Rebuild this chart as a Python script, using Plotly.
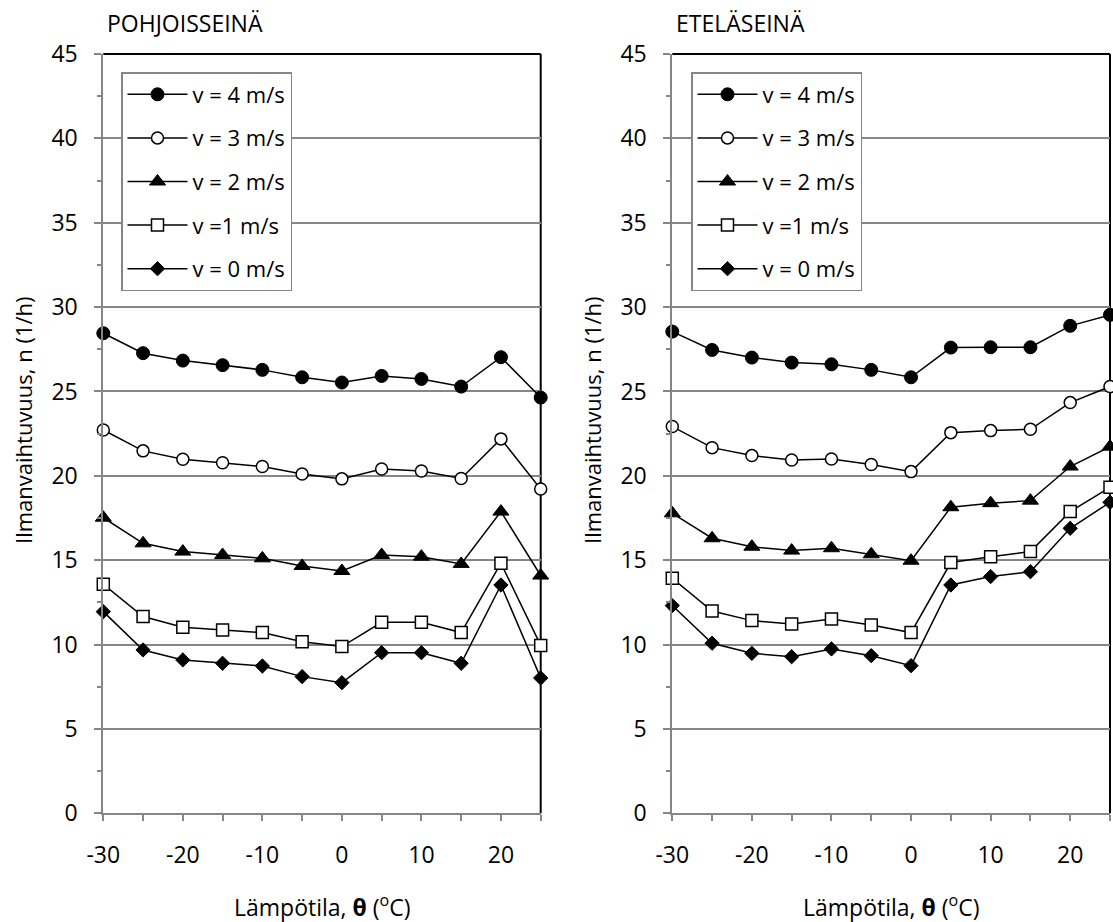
import plotly.graph_objects as go

# ---------------- data ----------------
temps = [-30, -25, -20, -15, -10, -5, 0, 5, 10, 15, 20, 25]
series_names = ["v = 4 m/s", "v = 3 m/s", "v = 2 m/s", "v =1 m/s", "v = 0 m/s"]

north_v4 = [28.45, 27.27, 26.83, 26.56, 26.28, 25.84, 25.53, 25.92, 25.74, 25.29, 27.03, 24.64]
north_v3 = [22.72, 21.48, 20.98, 20.78, 20.55, 20.11, 19.82, 20.41, 20.29, 19.84, 22.19, 19.22]
north_v2 = [17.52, 16.00, 15.51, 15.31, 15.11, 14.66, 14.36, 15.31, 15.21, 14.78, 17.88, 14.09]
north_v1 = [13.57, 11.66, 11.03, 10.87, 10.71, 10.17, 9.88, 11.32, 11.32, 10.71, 14.82, 9.95]
north_v0 = [11.95, 9.68, 9.09, 8.89, 8.73, 8.10, 7.74, 9.52, 9.52, 8.89, 13.53, 8.02]

south_v4 = [28.55, 27.46, 27.01, 26.71, 26.61, 26.28, 25.84, 27.60, 27.62, 27.62, 28.89, 29.54]
south_v3 = [22.92, 21.67, 21.20, 20.94, 21.00, 20.67, 20.25, 22.56, 22.68, 22.76, 24.34, 25.29]
south_v2 = [17.78, 16.30, 15.80, 15.57, 15.71, 15.35, 14.97, 18.14, 18.38, 18.53, 20.55, 21.73]
south_v1 = [13.93, 11.99, 11.42, 11.22, 11.52, 11.16, 10.71, 14.86, 15.21, 15.51, 17.88, 19.32]
south_v0 = [12.31, 10.08, 9.48, 9.28, 9.74, 9.34, 8.75, 13.53, 14.03, 14.32, 16.89, 18.43]

x_tick_vals = [-30, -20, -10, 0, 10, 20]
y_tick_vals = [0, 5, 10, 15, 20, 25, 30, 35, 40, 45]

panel_titles = ["POHJOISSEINÄ", "ETELÄSEINÄ"]
x_title = "Lämpötila, <b>θ</b> (<sup>o</sup>C)"
y_title = "Ilmanvaihtuvuus, n (1/h)"

# ---------------- styles ----------------
FONT = "Open Sans"
GRAY = "#868686"
W, H = 1113, 922

marker_styles = [
    dict(symbol="circle", size=13, color="black", line=dict(color="black", width=1)),
    dict(symbol="circle", size=12, color="white", line=dict(color="black", width=1.5)),
    dict(symbol="triangle-up", size=14, color="black", line=dict(color="black", width=1)),
    dict(symbol="square", size=12, color="white", line=dict(color="black", width=1.5)),
    dict(symbol="diamond", size=11, color="black", line=dict(color="black", width=1)),
]

north = [north_v4, north_v3, north_v2, north_v1, north_v0]
south = [south_v4, south_v3, south_v2, south_v1, south_v0]

fig = go.Figure()

for panel, (data, xa, ya, leg) in enumerate([(north, "x", "y", "legend"), (south, "x2", "y2", "legend2")]):
    for i, (name, vals) in enumerate(zip(series_names, data)):
        fig.add_trace(go.Scatter(
            x=temps, y=vals, name=name, mode="lines+markers",
            line=dict(color="black", width=1.5),
            marker=marker_styles[i],
            xaxis=xa, yaxis=ya, legend=leg,
            legendgroup=f"{leg}_{i}",
            cliponaxis=False,
        ))

# domains (pixel based)
xl = [103.3 / W, 540.7 / W]
xr = [672.3 / W, 1110.0 / W]
yd = [(H - 813.3) / H, (H - 54.0) / H]

def xaxis_cfg(domain, anchor):
    return dict(
        domain=domain, anchor=anchor, range=[-30, 25], automargin=False,
        tickvals=x_tick_vals, ticktext=[str(v) for v in x_tick_vals],
        ticks="outside", ticklen=6, tickwidth=1.5, tickcolor=GRAY,
        minor=dict(dtick=5, tick0=-30, ticks="outside", ticklen=6, tickwidth=1.5, tickcolor=GRAY, showgrid=False),
        showline=True, linecolor=GRAY, linewidth=2,
        showgrid=False, zeroline=False,
        tickfont=dict(family=FONT, size=23, color="black"),
        ticklabelstandoff=14,
    )

def yaxis_cfg(anchor):
    return dict(
        domain=yd, anchor=anchor, range=[0, 45], automargin=False,
        tickvals=y_tick_vals, ticktext=[str(v) for v in y_tick_vals],
        ticks="outside", ticklen=7, tickwidth=1.5, tickcolor=GRAY,
        minor=dict(dtick=2.5, ticks="outside", ticklen=4, tickwidth=1.5, tickcolor=GRAY, showgrid=False),
        showline=True, linecolor=GRAY, linewidth=2,
        showgrid=True, gridcolor=GRAY, gridwidth=1.5, zeroline=False,
        tickfont=dict(family=FONT, size=23, color="black"),
        ticklabelstandoff=12,
    )

legend_common = dict(
    xanchor="left", yanchor="top",
    bordercolor=GRAY, borderwidth=1.5, bgcolor="white",
    font=dict(family=FONT, size=22, color="black"),
    itemwidth=60, tracegroupgap=12, traceorder="grouped",
)

fig.update_layout(
    width=W, height=H,
    margin=dict(l=0, r=0, t=0, b=0, autoexpand=False),
    paper_bgcolor="white", plot_bgcolor="white",
    font=dict(family=FONT, color="black"),
    xaxis=xaxis_cfg(xl, "y"),
    yaxis=yaxis_cfg("x"),
    xaxis2=xaxis_cfg(xr, "y2"),
    yaxis2=yaxis_cfg("x2"),
    legend=dict(x=121 / W, y=1 - 72 / H, **legend_common),
    legend2=dict(x=691 / W, y=1 - 72 / H, **legend_common),
    showlegend=True,
)

# black top/right border of each plot area
for xa, ya in [("x", "y"), ("x2", "y2")]:
    fig.add_shape(type="line", xref=f"{xa} domain", yref=f"{ya} domain", x0=0, x1=1, y0=1, y1=1,
                  line=dict(color="black", width=2), layer="below")
    fig.add_shape(type="line", xref=f"{xa} domain", yref=f"{ya} domain", x0=1, x1=1, y0=0, y1=1,
                  line=dict(color="black", width=2), layer="below")

annots = []
for title, left, ycenter_x, xcenter in [(panel_titles[0], 105, 23, 322), (panel_titles[1], 674, 592, 891)]:
    annots.append(dict(text=title, x=left / W, y=1 - 23 / H, xref="paper", yref="paper",
                       xanchor="left", yanchor="middle", showarrow=False,
                       font=dict(family=FONT, size=23, color="black")))
    annots.append(dict(text=x_title, x=xcenter / W, y=1 - 906 / H, xref="paper", yref="paper",
                       xanchor="center", yanchor="middle", showarrow=False,
                       font=dict(family=FONT, size=23, color="black")))
    annots.append(dict(text=y_title, x=ycenter_x / W, y=1 - 420 / H, xref="paper", yref="paper",
                       xanchor="center", yanchor="middle", showarrow=False, textangle=-90,
                       font=dict(family=FONT, size=22, color="black")))
fig.update_layout(annotations=annots)

fig.write_html("out.html")
